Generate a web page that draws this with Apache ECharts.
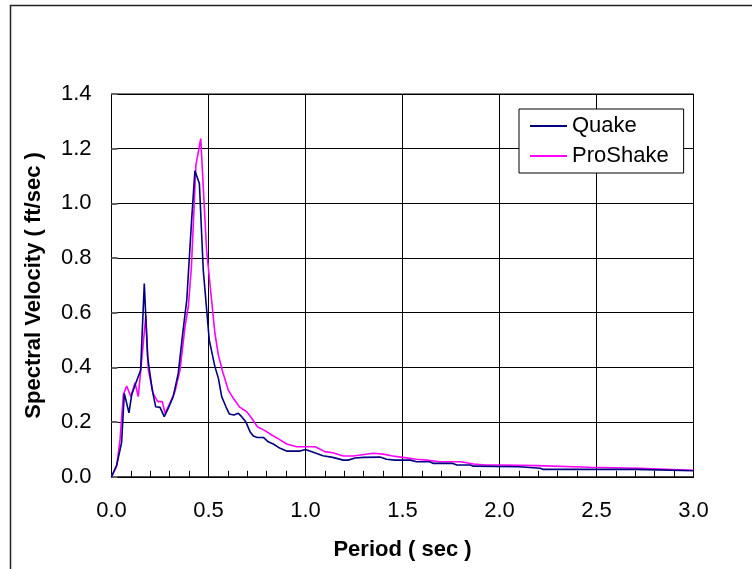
<!DOCTYPE html>
<html>
<head>
<meta charset="utf-8">
<script src="https://cdn.jsdelivr.net/npm/echarts@6/dist/echarts.min.js"></script>
<style>
html,body{margin:0;padding:0;background:#fff;}
#c{width:752px;height:569px;}
</style>
</head>
<body>
<div id="c"></div>
<script>
const xTicks = [0, 0.5, 1.0, 1.5, 2.0, 2.5, 3.0];
const yTicks = [0, 0.2, 0.4, 0.6, 0.8, 1.0, 1.2, 1.4];
const seriesNames = ['Quake', 'ProShake'];

const quakeT = [0, 0.027, 0.052, 0.066, 0.09, 0.104, 0.125, 0.15, 0.169, 0.186, 0.21, 0.228, 0.25, 0.272, 0.296, 0.318, 0.344, 0.367, 0.388, 0.413, 0.43, 0.453, 0.473, 0.504, 0.533, 0.551, 0.568, 0.59, 0.607, 0.631, 0.654, 0.671, 0.693, 0.714, 0.731, 0.752, 0.783, 0.808, 0.834, 0.869, 0.903, 0.972, 1.0, 1.04, 1.09, 1.14, 1.195, 1.22, 1.255, 1.3, 1.384, 1.418, 1.46, 1.54, 1.573, 1.64, 1.66, 1.76, 1.78, 1.85, 1.865, 2.1, 2.105, 2.21, 2.226, 2.7, 2.707, 3.0];
const quakeSV = [0, 0.043, 0.125, 0.305, 0.234, 0.30, 0.342, 0.39, 0.707, 0.44, 0.317, 0.256, 0.254, 0.22, 0.256, 0.293, 0.378, 0.525, 0.646, 0.939, 1.119, 1.073, 0.756, 0.5, 0.403, 0.36, 0.293, 0.256, 0.23, 0.226, 0.232, 0.22, 0.2, 0.165, 0.149, 0.144, 0.144, 0.128, 0.12, 0.104, 0.094, 0.094, 0.1, 0.09, 0.077, 0.071, 0.061, 0.061, 0.069, 0.071, 0.072, 0.064, 0.061, 0.061, 0.055, 0.055, 0.049, 0.049, 0.043, 0.043, 0.039, 0.037, 0.031, 0.031, 0.027, 0.027, 0.022, 0.022];

const proT = [0, 0.027, 0.044, 0.061, 0.078, 0.1, 0.121, 0.138, 0.177, 0.19, 0.215, 0.238, 0.262, 0.276, 0.30, 0.327, 0.353, 0.379, 0.396, 0.412, 0.435, 0.46, 0.49, 0.516, 0.533, 0.551, 0.573, 0.602, 0.628, 0.659, 0.697, 0.723, 0.752, 0.791, 0.826, 0.865, 0.903, 0.955, 1.05, 1.1, 1.14, 1.195, 1.246, 1.35, 1.4, 1.45, 1.5, 1.573, 1.625, 1.69, 1.8, 1.865, 1.93, 2.0, 2.19, 2.466, 2.72, 3.0];
const proSV = [0, 0.04, 0.135, 0.30, 0.332, 0.293, 0.344, 0.293, 0.589, 0.39, 0.305, 0.275, 0.275, 0.232, 0.268, 0.311, 0.39, 0.549, 0.622, 0.768, 1.14, 1.237, 0.83, 0.646, 0.525, 0.445, 0.384, 0.317, 0.287, 0.256, 0.238, 0.214, 0.183, 0.169, 0.153, 0.137, 0.12, 0.11, 0.11, 0.092, 0.088, 0.076, 0.076, 0.086, 0.083, 0.076, 0.071, 0.064, 0.061, 0.055, 0.055, 0.047, 0.043, 0.043, 0.041, 0.035, 0.031, 0.024];

const pairs = (t, v) => t.map((x, i) => [x, v[i]]);
const FONT = '"Liberation Sans", Arial, sans-serif';

const chart = echarts.init(document.getElementById('c'), null, {renderer: 'canvas'});
chart.setOption({
  animation: false,
  backgroundColor: '#fff',
  graphic: [{
    type: 'rect', left: 8, top: 3, silent: true,
    shape: {width: 800, height: 700},
    style: {fill: 'none', stroke: '#222', lineWidth: 1.5}
  }],
  grid: {left: 111.5, right: 58.5, top: 94, bottom: 92.2, show: true, borderColor: '#000', borderWidth: 1, backgroundColor: 'transparent'},
  legend: {
    orient: 'vertical', left: 519, top: 109,
    data: seriesNames,
    icon: 'rect', itemWidth: 37, itemHeight: 2, itemGap: 8, itemTextGap: 6,
    padding: [6, 15, 6, 11],
    borderColor: '#000', borderWidth: 1, backgroundColor: '#fff',
    textStyle: {fontFamily: FONT, fontSize: 22, color: '#000'}
  },
  xAxis: {
    type: 'value', min: xTicks[0], max: xTicks[xTicks.length - 1], interval: 0.5,
    name: 'Period ( sec )', nameLocation: 'middle', nameGap: 62,
    nameTextStyle: {fontFamily: FONT, fontSize: 22, fontWeight: 'bold', color: '#000'},
    axisLine: {show: true, onZero: false, lineStyle: {color: '#000', width: 1}},
    axisTick: {show: true, inside: true, length: 6, lineStyle: {color: '#000'}},
    minorTick: {show: true, splitNumber: 5, length: 6, lineStyle: {color: '#000'}},
    axisLabel: {fontFamily: FONT, fontSize: 22, color: '#000', margin: 23, formatter: v => v.toFixed(1)},
    splitLine: {show: true, lineStyle: {color: '#000', width: 1}}
  },
  yAxis: {
    type: 'value', min: yTicks[0], max: yTicks[yTicks.length - 1], interval: 0.2,
    name: 'Spectral Velocity ( ft/sec )', nameLocation: 'middle', nameGap: 67,
    nameTextStyle: {fontFamily: FONT, fontSize: 22, fontWeight: 'bold', color: '#000'},
    axisLine: {show: true, lineStyle: {color: '#000', width: 1}},
    axisTick: {show: true, inside: true, length: 6, lineStyle: {color: '#666', width: 2}},
    axisLabel: {fontFamily: FONT, fontSize: 22, color: '#000', margin: 20, formatter: v => v.toFixed(1)},
    splitLine: {show: true, lineStyle: {color: '#000', width: 1}}
  },
  series: [
    {name: seriesNames[0], type: 'line', data: pairs(quakeT, quakeSV), symbol: 'none', z: 3,
     lineStyle: {color: '#000080', width: 1.6}, itemStyle: {color: '#000080'}},
    {name: seriesNames[1], type: 'line', data: pairs(proT, proSV), symbol: 'none', z: 2,
     lineStyle: {color: '#FF00FF', width: 1.6}, itemStyle: {color: '#FF00FF'}}
  ]
});
</script>
</body>
</html>
